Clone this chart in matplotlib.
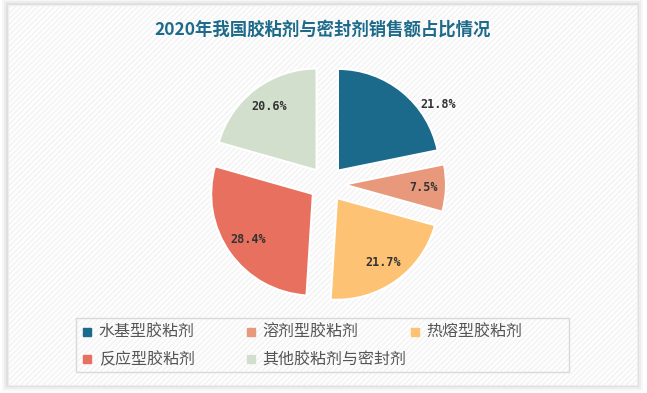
import matplotlib
matplotlib.use('Agg')
import matplotlib.pyplot as plt
from matplotlib.patches import Rectangle
from matplotlib.lines import Line2D

plt.rcParams['font.family'] = ['Noto Sans CJK SC', 'DejaVu Sans']
plt.rcParams['hatch.linewidth'] = 0.6

title = '2020年我国胶粘剂与密封剂销售额占比情况'
categories = ['水基型胶粘剂', '溶剂型胶粘剂', '热熔型胶粘剂', '反应型胶粘剂', '其他胶粘剂与密封剂']
shares = [21.8, 7.5, 21.7, 28.4, 20.6]
colors = ['#1b6a8c', '#e8997b', '#fdc273', '#e8705f', '#d2dfcd']

fig = plt.figure(figsize=(6.47, 3.93), dpi=100)
fig.patch.set_facecolor('white')

# card background with soft shadow and diagonal texture
for i, a in enumerate([0.05, 0.04, 0.03]):
    fig.patches.append(Rectangle((8/647 - (i+1)*0.003, 8/393 - (i+1)*0.005),
                                 629/647 + (i+1)*0.006, 380/393 + (i+1)*0.01,
                                 transform=fig.transFigure, facecolor='black',
                                 alpha=a, edgecolor='none', zorder=-10))
fig.patches.append(Rectangle((8/647, 8/393), 629/647, 380/393, transform=fig.transFigure,
                             facecolor='#fdfdfd', edgecolor='#eeeeee', hatch='//////',
                             linewidth=0.8, zorder=-5))

fig.text(323/647, 1 - 30/393, title, ha='center', va='center', fontsize=12.5,
         fontweight='bold', color='#1d6a8a')

ax = fig.add_axes([208/647, 1 - 303/393, 238/647, 238/393])
ax.set_facecolor('white')
wedges, texts, autotexts = ax.pie(shares, colors=colors, startangle=90, counterclock=False,
                                  explode=[0.17]*len(shares), radius=1,
                                  autopct='%.1f%%', pctdistance=0.78,
                                  wedgeprops=dict(edgecolor='white', linewidth=1.5))
for t in autotexts:
    t.set_fontfamily(['DejaVu Sans Mono'])
    t.set_fontweight('bold')
    t.set_fontsize(8.5)
    t.set_color('#333333')
autotexts[0].set_position((1.09, 0.78))
ax.set_xlim(-1.17, 1.17)
ax.set_ylim(-1.17, 1.17)
ax.set_aspect('equal')
for s in ax.spines.values():
    s.set_visible(False)
ax.set_xticks([])
ax.set_yticks([])

# legend: three columns, row-major order, inside one frame
handles = [Line2D([], [], marker='s', linestyle='none', markersize=6, color=c) for c in colors]
columns = [[0, 3], [1, 4], [2]]
col_x = [78, 242, 406]
for cx, idx in zip(col_x, columns):
    leg = fig.legend([handles[i] for i in idx], [categories[i] for i in idx],
                     loc='upper left', bbox_to_anchor=(cx/647, 1 - 321/393),
                     frameon=False, fontsize=11.5, handlelength=0.7, handletextpad=0.4,
                     borderaxespad=0, labelspacing=0.62, borderpad=0.2,
                     labelcolor='#555555')
fig.patches.append(Rectangle((76/647, 1 - 372/393), 493/647, 54/393,
                             transform=fig.transFigure, facecolor='none',
                             edgecolor='#d9d9d9', linewidth=1, zorder=1))

fig.savefig('out.png', dpi=100)
